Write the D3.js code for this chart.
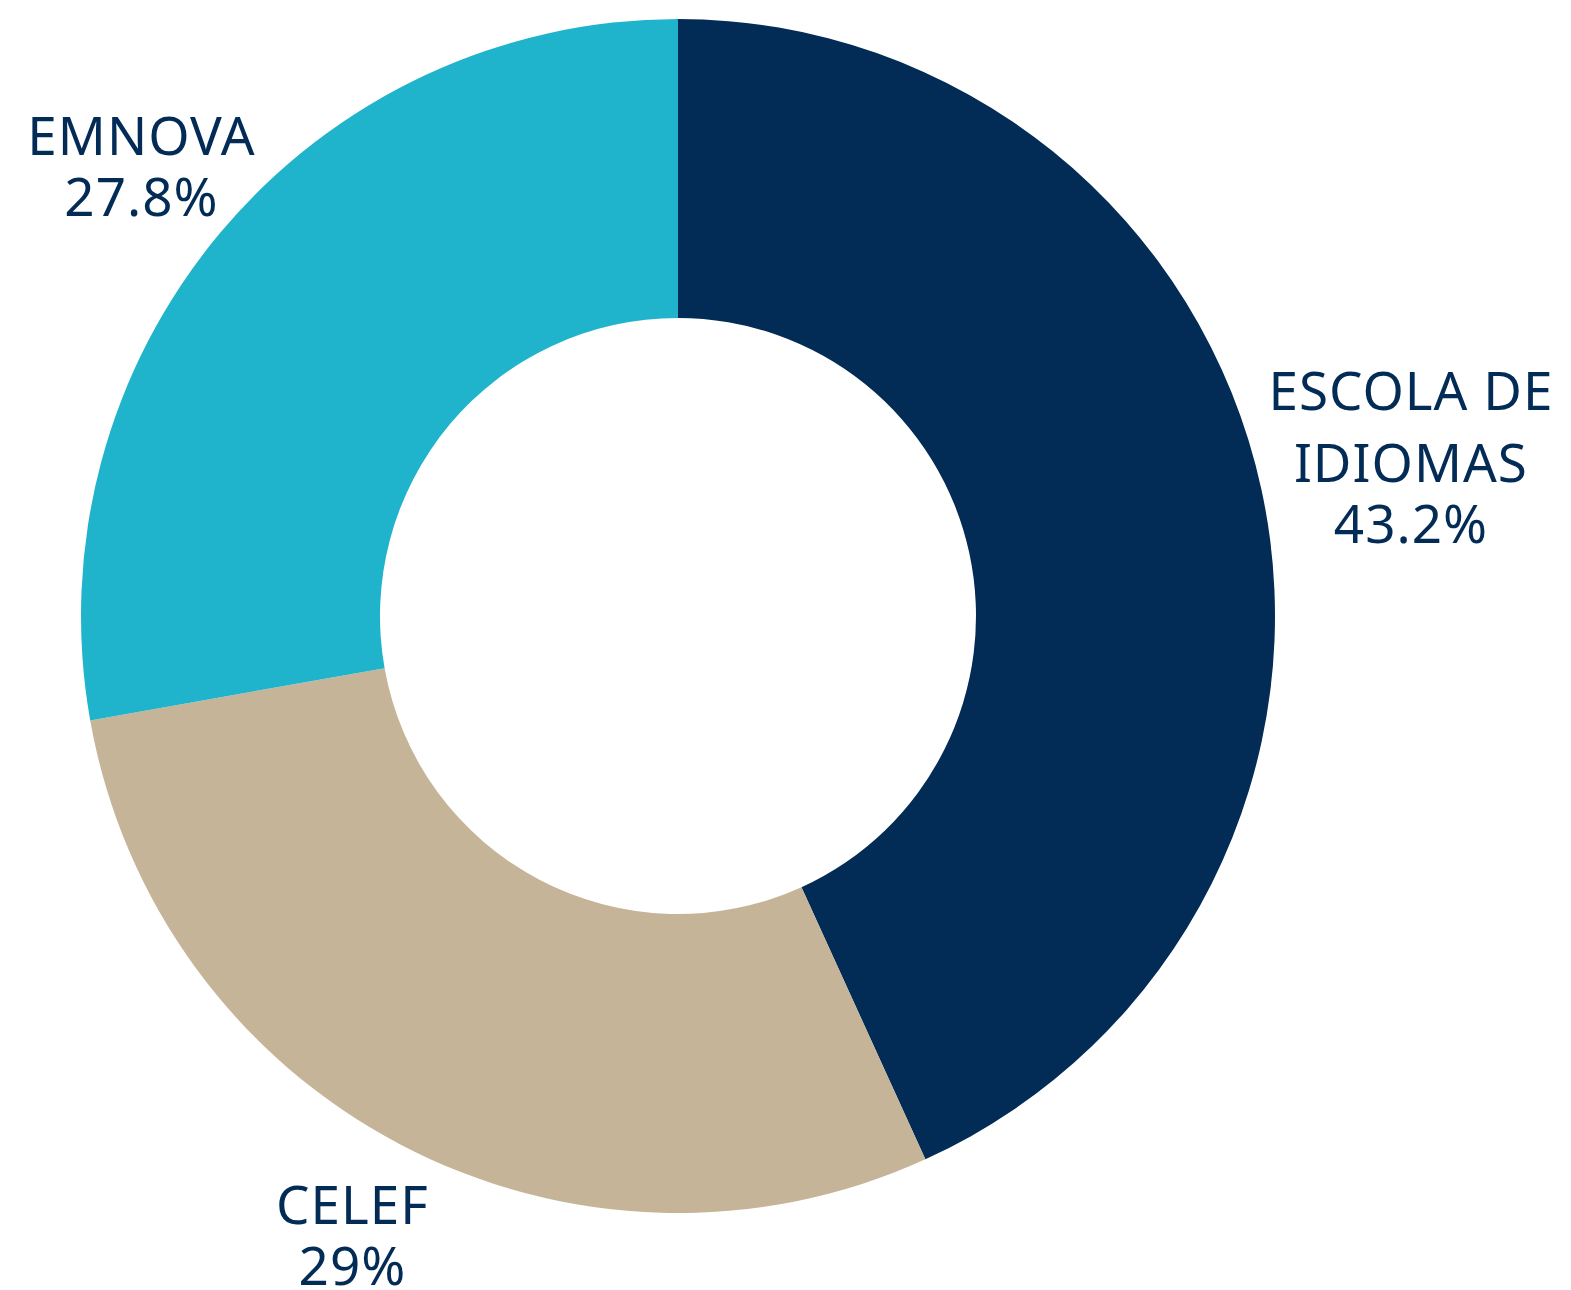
<!DOCTYPE html>
<html lang="pt">
<head>
<meta charset="UTF-8" />
<title>Donut</title>
<script src="https://d3js.org/d3.v7.min.js"></script>
<style>
    body { margin: 0; background: #fff; }
    svg { display: block; }
    .lbl text { font-family: "Noto Sans", sans-serif; font-size: 53px; fill: #022b56; letter-spacing: 1px; }
</style>
</head>
<body>
<svg id="chart" width="1571" height="1290"></svg>
<script>
    // dados
    const names = [["ESCOLA DE", "IDIOMAS"], ["CELEF"], ["EMNOVA"]];
    const values = [43.2, 29, 27.8];
    const valueLabels = ["43.2%", "29%", "27.8%"];
    const colors = ["#022b56", "#c5b498", "#1fb4cb"];

    const svg = d3.select("#chart");
    const cx = 678, cy = 616;
    const outerR = 597, innerR = 298;
    const labelR = 700;

    const pie = d3.pie().sort(null).value(d => d)(values);
    const arc = d3.arc().innerRadius(innerR).outerRadius(outerR);

    const g = svg.append("g").attr("transform", `translate(${cx},${cy})`);

    g.selectAll("path")
        .data(pie)
        .join("path")
        .attr("d", arc)
        .attr("fill", (d, i) => colors[i]);

    const capH = 38, nameGap = 72, valGap = 61;

    const lbl = g.append("g").attr("class", "lbl");
    pie.forEach((d, i) => {
        const lines = names[i];
        // labels with more lines get pushed out a bit
        const r = labelR + (lines.length - 1) * 50;
        const [lx, ly] = d3.arc().innerRadius(r).outerRadius(r).centroid(d);
        const span = (lines.length - 1) * nameGap + valGap;
        const first = ly + capH / 2 - span / 2;
        const t = lbl.append("text").attr("text-anchor", "middle");
        lines.forEach((s, j) => {
            t.append("tspan").attr("x", lx).attr("y", first + j * nameGap).text(s);
        });
        t.append("tspan").attr("x", lx).attr("y", first + (lines.length - 1) * nameGap + valGap).text(valueLabels[i]);
    });
</script>
</body>
</html>
